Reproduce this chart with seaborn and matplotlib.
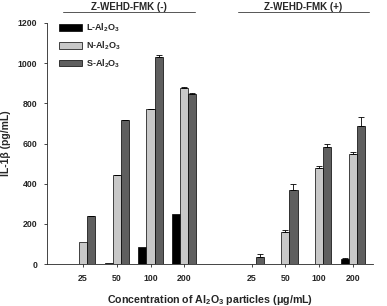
import matplotlib
matplotlib.use('Agg')
import matplotlib.pyplot as plt
import pandas as pd
import seaborn as sns

# concentraciones (ug/mL) y grupos
conc = ['25', '50', '100', '200']
groups = ['Z-WEHD-FMK (-)', 'Z-WEHD-FMK (+)']
particles = ['L-Al$_2$O$_3$', 'N-Al$_2$O$_3$', 'S-Al$_2$O$_3$']

# IL-1b (pg/mL), sin inhibidor
L_minus = [0, 5, 83, 250]
N_minus = [108, 442, 772, 878]
S_minus = [237, 716, 1033, 847]
# con inhibidor
L_plus = [0, 0, 0, 26]
N_plus = [0, 162, 476, 546]
S_plus = [37, 368, 583, 686]

# desviaciones (solo hacia arriba)
L_minus_err = [0, 0, 0, 0]
N_minus_err = [0, 2, 2, 2]
S_minus_err = [2, 3, 6, 5]
L_plus_err = [0, 0, 0, 5]
N_plus_err = [0, 10, 12, 14]
S_plus_err = [15, 30, 15, 44]

# posiciones en el eje (hueco entre grupos)
pos_minus = [0, 1, 2, 3]
pos_plus = [5, 6, 7, 8]

rows = []
vals = {
    particles[0]: (L_minus + L_plus, L_minus_err + L_plus_err),
    particles[1]: (N_minus + N_plus, N_minus_err + N_plus_err),
    particles[2]: (S_minus + S_plus, S_minus_err + S_plus_err),
}
positions = pos_minus + pos_plus
for p in particles:
    for x, v, e in zip(positions, vals[p][0], vals[p][1]):
        rows.append({'pos': x, 'particle': p, 'value': v, 'err': e})
df = pd.DataFrame(rows)

sns.set_style('ticks')
plt.rcParams['font.family'] = ['Liberation Sans', 'DejaVu Sans']
plt.rcParams['font.weight'] = 'bold'
plt.rcParams['mathtext.fontset'] = 'custom'
plt.rcParams['mathtext.rm'] = 'Liberation Sans:bold'
plt.rcParams['mathtext.default'] = 'rm'

fig = plt.figure(figsize=(3.87, 3.06), dpi=100)
ax = fig.add_axes([0.1214, 0.137, 0.8426, 0.788])

colors = ['#000000', '#c8c8c8', '#5f5f5f']
width = 0.72
sns.barplot(data=df, x='pos', y='value', hue='particle', hue_order=particles,
            palette=colors, native_scale=True, width=width, errorbar=None,
            edgecolor='black', linewidth=0.5, ax=ax)

# barras de error
bw = width / len(particles)
for i, p in enumerate(particles):
    sub = df[df['particle'] == p]
    xs = sub['pos'] + (i - 1) * bw
    m = sub['err'] > 0
    ax.errorbar(xs[m], sub['value'][m], yerr=[[0] * m.sum(), sub['err'][m]],
                fmt='none', ecolor='black', elinewidth=0.6, capsize=2.5,
                capthick=0.6)

ax.set_xlim(-1.07, 8.6)
ax.set_ylim(0, 1200)
ax.set_yticks([0, 200, 400, 600, 800, 1000, 1200])
ax.set_xticks(positions)
ax.set_xticklabels(conc + conc)
ax.tick_params(axis='both', labelsize=6.3, length=2.5, width=0.6, pad=4.5)
for s in ['top', 'right']:
    ax.spines[s].set_visible(False)
for s in ['left', 'bottom']:
    ax.spines[s].set_linewidth(0.6)

ax.set_xlabel('Concentration of Al$_2$O$_3$ particles (\u03bcg/mL)',
              fontsize=7.7, fontweight='bold', labelpad=7)
ax.set_ylabel('IL-1\u03b2 (pg/mL)', fontsize=7.5, fontweight='bold', labelpad=5)

# encabezados de grupo
tr = ax.get_xaxis_transform()
for name, x0, x1 in [(groups[0], -0.6, 3.33), (groups[1], 4.58, 8.48)]:
    ax.plot([x0, x1], [1.046, 1.046], transform=tr, clip_on=False,
            color='#555555', lw=0.7)
    ax.text((x0 + x1) / 2, 1.068, name, transform=tr, ha='center',
            va='center', fontsize=7, fontweight='bold')

leg = ax.legend(loc='upper left', bbox_to_anchor=(0.012, 1.04), frameon=False,
                fontsize=6.5, handlelength=2.5, handleheight=0.75,
                labelspacing=0.6, handletextpad=0.5)
for h in leg.legend_handles:
    h.set_edgecolor('black')
    h.set_linewidth(0.5)

plt.savefig('out.png', dpi=100)
